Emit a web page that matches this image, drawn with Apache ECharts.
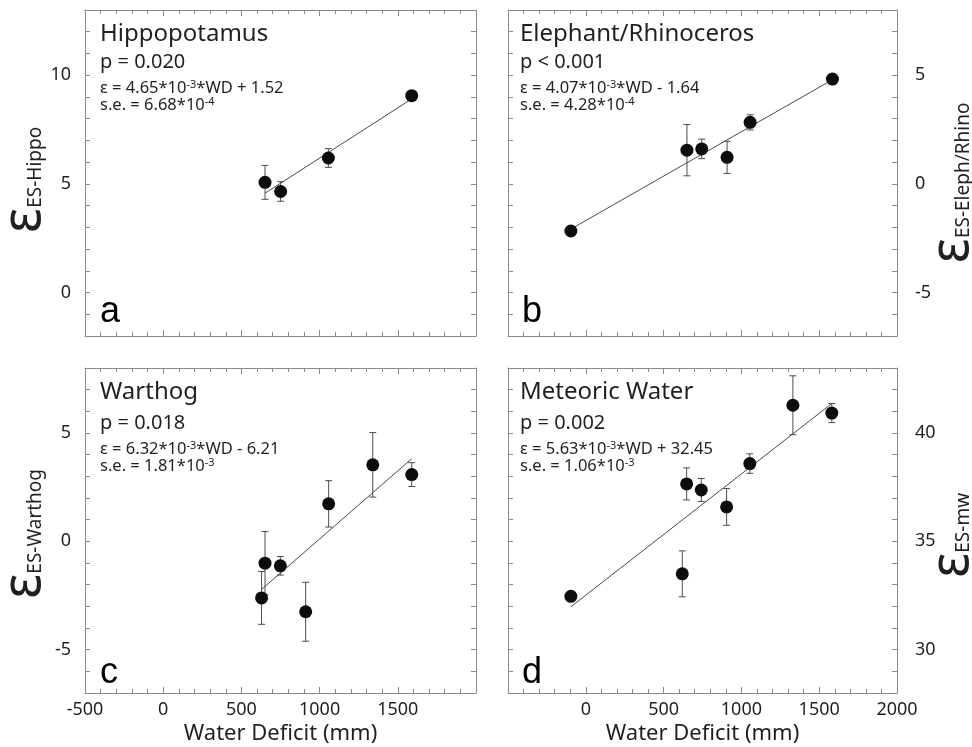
<!DOCTYPE html>
<html><head><meta charset="utf-8">
<script src="https://cdn.jsdelivr.net/npm/echarts@6/dist/echarts.min.js"></script>
<style>html,body{margin:0;padding:0;background:#fff}#c{width:972px;height:747px}</style>
</head><body><div id="c"></div>
<script>
// ---------- data ----------
const hippoWD  = [651, 751, 1056, 1589];
const hippoEps = [5.07, 4.65, 6.19, 9.06];
const hippoErr = [0.78, 0.45, 0.43, 0.2];
const hippoFit = [[651, 4.57], [1589, 8.91]];

const elephWD  = [-96, 650, 745, 908, 1056, 1585];
const elephEps = [-2.17, 1.55, 1.61, 1.22, 2.83, 4.82];
const elephErr = [0, 1.18, 0.45, 0.74, 0.35, 0.2];
const elephFit = [[-96, -2.08], [1585, 4.79]];

const warthogWD  = [629, 651, 749, 911, 1058, 1340, 1589];
const warthogEps = [-2.61, -1.01, -1.13, -3.25, 1.73, 3.53, 3.08];
const warthogErr = [1.22, 1.46, 0.43, 1.36, 1.07, 1.49, 0.55];
const warthogFit = [[629, -2.22], [1589, 3.81]];

const mwWD  = [-96, 620, 648, 742, 905, 1054, 1331, 1581];
const mwEps = [32.46, 33.5, 37.65, 37.37, 36.59, 38.59, 41.28, 40.92];
const mwErr = [0, 1.06, 0.74, 0.53, 0.85, 0.45, 1.36, 0.44];
const mwFit = [[-96, 31.98], [1581, 41.36]];

const panelTitles = ['Hippopotamus', 'Elephant/Rhinoceros', 'Warthog', 'Meteoric Water'];
const panelP = ['p = 0.020', 'p < 0.001', 'p = 0.018', 'p = 0.002'];
const panelEq = [
  ['ε = 4.65*10', '-3', '*WD + 1.52'],
  ['ε = 4.07*10', '-3', '*WD - 1.64'],
  ['ε = 6.32*10', '-3', '*WD - 6.21'],
  ['ε = 5.63*10', '-3', '*WD + 32.45']
];
const panelSE = [
  ['s.e. = 6.68*10', '-4'],
  ['s.e. = 4.28*10', '-4'],
  ['s.e. = 1.81*10', '-3'],
  ['s.e. = 1.06*10', '-3']
];
const panelLetters = ['a', 'b', 'c', 'd'];
const yNames = ['ES-Hippo', 'ES-Eleph/Rhino', 'ES-Warthog', 'ES-mw'];
const yRanges = [[-2, 13], [-7, 8], [-7, 8], [28, 43]];
const xRange = [-500, 2000];
const xTitle = 'Water Deficit (mm)';

// ---------- layout ----------
const FONT = 'Noto Sans';
const TXT = '#231f20';
const FRAME = '#8a8a8a';
const grids = [
  {left: 85, top: 10, width: 391, height: 326},
  {left: 508, top: 10, width: 389, height: 326},
  {left: 85, top: 368, width: 391, height: 325},
  {left: 508, top: 368, width: 389, height: 325}
];
const labelSide = ['left', 'right', 'left', 'right'];
const namePad = [14, 20, 7, 10];
const nameGaps = [33, 29, 33, 29];

const xAxes = [], yAxes = [];
grids.forEach((g, gi) => {
  const showX = gi >= 2;
  const base = {
    type: 'value', gridIndex: gi, min: xRange[0], max: xRange[1], interval: 500,
    axisLine: {show: true, onZero: false, lineStyle: {color: FRAME, width: 1}},
    axisTick: {show: true, inside: true, length: 6, lineStyle: {color: FRAME}},
    minorTick: {show: true, splitNumber: 5, length: 4, lineStyle: {color: FRAME}},
    splitLine: {show: false}
  };
  xAxes.push(Object.assign({}, base, {
    position: 'bottom',
    name: showX ? xTitle : '', nameLocation: 'middle', nameGap: 30, nameMoveOverlap: false,
    nameTextStyle: {fontFamily: FONT, fontSize: 22, color: TXT},
    axisLabel: {show: showX, fontFamily: FONT, fontSize: 18, color: TXT, margin: 8,
      showMinLabel: gi === 2, showMaxLabel: gi === 3, formatter: v => String(v)}
  }));
  xAxes.push(Object.assign({}, base, {position: 'top', axisLabel: {show: false}}));
  ['left', 'right'].forEach(side => {
    const isLab = labelSide[gi] === side;
    yAxes.push({
      type: 'value', gridIndex: gi, position: side,
      min: yRanges[gi][0], max: yRanges[gi][1], interval: 1,
      axisLine: {show: true, onZero: false, lineStyle: {color: FRAME, width: 1}},
      axisTick: {show: true, inside: true, length: 5, lineStyle: {color: FRAME}},
      splitLine: {show: false},
      axisLabel: {show: isLab, fontFamily: FONT, fontSize: 18, color: TXT,
        margin: side === 'left' ? 14 : 18,
        formatter: v => (Math.round(v) % 5 === 0 ? String(v) : '')},
      name: isLab ? '{e|ε}{s|' + yNames[gi] + '}' : '',
      nameLocation: 'middle', nameRotate: 90, nameGap: nameGaps[gi], nameMoveOverlap: false,
      nameTextStyle: {
        padding: [0, namePad[gi], 0, 0],
        rich: {
          e: {fontFamily: FONT, fontSize: 54, color: TXT},
          s: {fontFamily: FONT, fontSize: 19, color: TXT, verticalAlign: 'bottom', padding: [0, 0, 7, 0]}
        }
      }
    });
  });
});

const sets = [
  [hippoWD, hippoEps, hippoErr, hippoFit],
  [elephWD, elephEps, elephErr, elephFit],
  [warthogWD, warthogEps, warthogErr, warthogFit],
  [mwWD, mwEps, mwErr, mwFit]
];

const series = [];
sets.forEach(([wd, eps, err, fit], gi) => {
  series.push({
    type: 'custom', xAxisIndex: gi * 2, yAxisIndex: gi * 2, silent: true, z: 2,
    data: wd.map((x, i) => [x, eps[i] - err[i], eps[i] + err[i]]),
    renderItem(params, api) {
      const x = api.value(0);
      if (api.value(2) - api.value(1) <= 0) return null;
      const lo = api.coord([x, api.value(1)]);
      const hi = api.coord([x, api.value(2)]);
      const w = 3.5, st = {stroke: '#4d4d4d', lineWidth: 1};
      return {type: 'group', children: [
        {type: 'line', shape: {x1: lo[0], y1: lo[1], x2: hi[0], y2: hi[1]}, style: st},
        {type: 'line', shape: {x1: lo[0] - w, y1: lo[1], x2: lo[0] + w, y2: lo[1]}, style: st},
        {type: 'line', shape: {x1: hi[0] - w, y1: hi[1], x2: hi[0] + w, y2: hi[1]}, style: st}
      ]};
    }
  });
  series.push({
    type: 'line', xAxisIndex: gi * 2, yAxisIndex: gi * 2, data: fit, symbol: 'none', silent: true, z: 3,
    lineStyle: {color: '#4a4a4a', width: 1}
  });
  series.push({
    type: 'scatter', xAxisIndex: gi * 2, yAxisIndex: gi * 2, silent: true, z: 4,
    data: wd.map((x, i) => [x, eps[i]]), symbol: 'circle', symbolSize: 13,
    itemStyle: {color: '#0d0d0d', opacity: 1}
  });
});

// annotation text positions
const textX = [100, 520, 100, 520];
const rowY = [[34.5, 62, 88, 105.5], [392.5, 423, 449, 466]];
const letterPos = [[100, 312.5], [522, 312.5], [100, 673], [522, 673]];
const gfx = [];
grids.forEach((g, gi) => {
  const ry = rowY[gi < 2 ? 0 : 1];
  const x = textX[gi];
  gfx.push({type: 'text', x: x, y: ry[0], silent: true,
    style: {text: panelTitles[gi], fontFamily: FONT, fontSize: 24, fill: TXT, verticalAlign: 'middle'}});
  gfx.push({type: 'text', x: x, y: ry[1], silent: true,
    style: {text: panelP[gi], fontFamily: FONT, fontSize: 20, fill: TXT, verticalAlign: 'middle'}});
  const eq = panelEq[gi];
  const rich = {n: {fontFamily: FONT, fontSize: 16.5, lineHeight: 18, fill: TXT},
                s: {fontFamily: FONT, fontSize: 11, lineHeight: 11, fill: TXT, verticalAlign: 'top'}};
  gfx.push({type: 'text', x: x, y: ry[2], silent: true,
    style: {text: '{n|' + eq[0] + '}{s|' + eq[1] + '}{n|' + eq[2] + '}', verticalAlign: 'middle', rich: rich}});
  const se = panelSE[gi];
  gfx.push({type: 'text', x: x, y: ry[3], silent: true,
    style: {text: '{n|' + se[0] + '}{s|' + se[1] + '}', verticalAlign: 'middle', rich: rich}});
  gfx.push({type: 'text', x: letterPos[gi][0], y: letterPos[gi][1], silent: true,
    style: {text: panelLetters[gi], fontFamily: 'Liberation Sans', fontSize: 36, fill: '#000', verticalAlign: 'middle'}});
});

const chart = echarts.init(document.getElementById('c'), null, {renderer: 'canvas'});
chart.setOption({
  animation: false,
  backgroundColor: '#fff',
  grid: grids.map(g => Object.assign({containLabel: false, outerBoundsMode: 'none'}, g)),
  xAxis: xAxes,
  yAxis: yAxes,
  series: series,
  graphic: gfx
});
</script></body></html>
